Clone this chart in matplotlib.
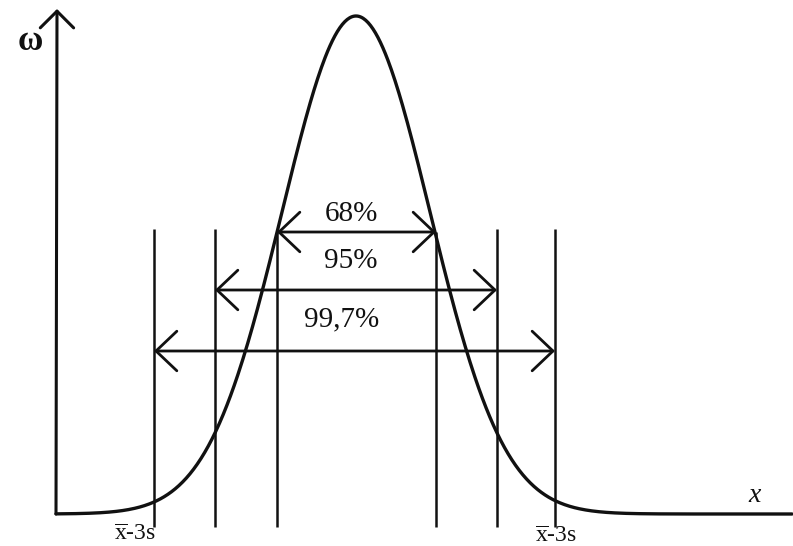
import numpy as np
import matplotlib
matplotlib.use("Agg")
import matplotlib.pyplot as plt

# ---------------------------------------------------------------------------
# Data (x: pixel column, y: height above the x axis)
# ---------------------------------------------------------------------------
curve_mean = 356.0
curve_sigma = 74.0
curve_peak = 498.0

interval_labels = ["68%", "95%", "99,7%"]
interval_left = [277, 215, 154]
interval_right = [436, 497, 555]
arrow_heights = [282, 224, 163]
label_heights = [300, 253, 195]
label_x = [351, 351, 342]
line_tops = [282, 285, 285]

bound_labels = [r"$\overline{\mathrm{x}}$-3s", r"$\overline{\mathrm{x}}$-3s"]
bound_label_x = [135, 556]
bound_label_y = [-21, -22]

plt.rcParams["font.family"] = ["Liberation Serif", "DejaVu Serif"]
plt.rcParams["mathtext.fontset"] = "custom"
plt.rcParams["mathtext.rm"] = "Liberation Serif"

fig = plt.figure(figsize=(7.93, 5.46), dpi=100)
ax = fig.add_axes([0, 0, 1, 1])
ax.set_xlim(0, 793)
ax.set_ylim(-32, 514)
ax.axis("off")

ink = "#111111"

# axes with arrows
ax.annotate("", xy=(57, 505), xytext=(56, 0),
            arrowprops=dict(arrowstyle="->,head_length=1.0,head_width=1.0",
                            mutation_scale=12, lw=2.2, color=ink,
                            shrinkA=0, shrinkB=0))
ax.annotate("", xy=(795, -4), xytext=(53, 2),
            arrowprops=dict(arrowstyle="->,head_length=1.0,head_width=1.0",
                            mutation_scale=11, lw=2.4, color=ink,
                            shrinkA=0, shrinkB=0))

# density curve
xs = np.linspace(56, 792, 600)
ys = curve_peak * np.exp(-0.5 * ((xs - curve_mean) / curve_sigma) ** 2)
ax.plot(xs, ys, color=ink, lw=2.4, solid_capstyle="round")

# interval boundaries and arrows
for lab, xl, xr, ya, yt, lx, top in zip(interval_labels, interval_left,
                                         interval_right, arrow_heights,
                                         label_heights, label_x, line_tops):
    ax.vlines([xl, xr], -13, top, color=ink, lw=1.8)
    ax.annotate("", xy=(xr, ya), xytext=(xl, ya),
                arrowprops=dict(arrowstyle="<->,head_length=1.0,head_width=0.95",
                                mutation_scale=15, lw=2.0, color=ink,
                                shrinkA=0, shrinkB=0))
    ax.text(lx, yt, lab, ha="center", va="center", fontsize=21, color=ink)

# axis labels
ax.text(30, 472, "\u03c9", ha="center", va="center", fontsize=25,
        weight="bold", color=ink)
ax.text(755, 19, "x", ha="center", va="center", fontsize=20,
        style="italic", color=ink)
for lab, bx, by in zip(bound_labels, bound_label_x, bound_label_y):
    ax.text(bx, by, lab, ha="center", va="center", fontsize=17, color=ink)

fig.savefig("out.png", dpi=100, facecolor="white")
